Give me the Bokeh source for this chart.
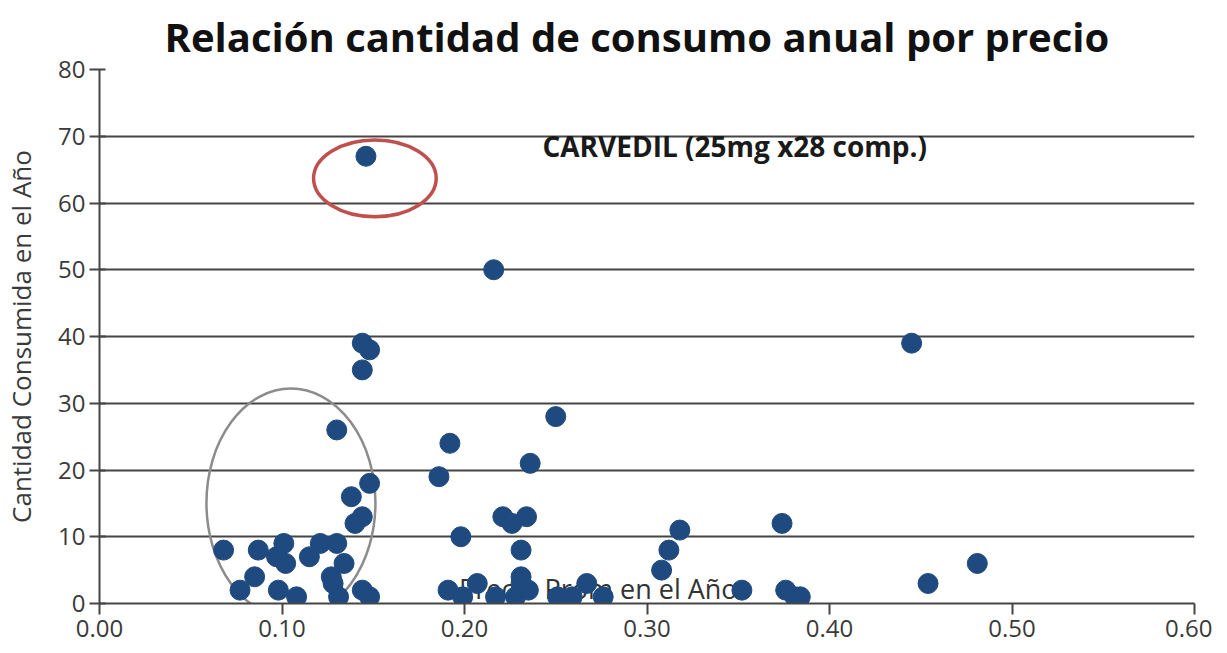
from bokeh.plotting import figure
from bokeh.models import FixedTicker, NumeralTickFormatter, Label, Range1d
from bokeh.embed import file_html
from bokeh.resources import INLINE
from bokeh.core.properties import value

# ---- data ----
precio = [
    0.068, 0.087, 0.101, 0.097, 0.102, 0.085, 0.077, 0.098, 0.108, 0.115,
    0.121, 0.130, 0.134, 0.127, 0.128, 0.131, 0.144, 0.148,
    0.146, 0.216, 0.445, 0.144, 0.148, 0.144, 0.250, 0.130, 0.192, 0.236,
    0.186, 0.148, 0.138, 0.144, 0.140, 0.221, 0.226, 0.234, 0.198, 0.231,
    0.318, 0.374, 0.312, 0.308, 0.481, 0.454, 0.352, 0.376, 0.381, 0.384,
    0.191, 0.199, 0.207, 0.217, 0.228, 0.231, 0.231, 0.235, 0.251, 0.259,
    0.267, 0.276,
]
cantidad = [
    8, 8, 9, 7, 6, 4, 2, 2, 1, 7,
    9, 9, 6, 4, 3, 1, 2, 1,
    67, 50, 39, 39, 38, 35, 28, 26, 24, 21,
    19, 18, 16, 13, 12, 13, 12, 13, 10, 8,
    11, 12, 8, 5, 6, 3, 2, 2, 1, 1,
    2, 1, 3, 1, 1, 4, 3, 2, 1, 1,
    3, 1,
]
x_ticks = [0.0, 0.1, 0.2, 0.3, 0.4, 0.5, 0.6]
y_ticks = [0, 10, 20, 30, 40, 50, 60, 70, 80]

titulo = "Relación cantidad de consumo anual por precio"
eje_y = "Cantidad Consumida en el Año"
eje_x = "Precio Prom en el Año"
nota = "CARVEDIL (25mg x28 comp.)"

FONT = "Open Sans"
GRID = "#454545"
TICKTXT = "#3a3a3a"
DOT = "#1F4A80"

p = figure(
    frame_width=1095, frame_height=534,
    x_range=Range1d(0, 0.6), y_range=Range1d(0, 80),
    output_backend="svg", toolbar_location=None,
    min_border_left=98, min_border_right=18,
    min_border_top=65, min_border_bottom=44,
    title=titulo,
)
p.outline_line_color = None
p.background_fill_color = "white"
p.border_fill_color = "white"

p.title.text_font = FONT
p.title.text_font_size = "40px"
p.title.text_font_style = "bold"
p.title.text_color = "#111111"
p.title.align = "left"
p.title.offset = 65
p.title.standoff = 12

# axes
p.xaxis.ticker = FixedTicker(ticks=x_ticks)
p.yaxis.ticker = FixedTicker(ticks=y_ticks)
p.xaxis.formatter = NumeralTickFormatter(format="0.00")
for ax in (p.xaxis, p.yaxis):
    ax.axis_line_color = GRID
    ax.axis_line_width = 2
    ax.major_tick_line_color = GRID
    ax.major_tick_line_width = 2
    ax.minor_tick_line_color = None
    ax.major_label_text_font = FONT
    ax.major_label_text_font_size = "24px"
    ax.major_label_text_color = TICKTXT
p.xaxis.major_tick_in = 0
p.xaxis.major_tick_out = 11
p.xaxis.major_label_standoff = 5
p.yaxis.major_tick_in = 6
p.yaxis.major_tick_out = 10
p.yaxis.major_label_standoff = 4

p.yaxis.axis_label = eje_y
p.yaxis.axis_label_text_font = FONT
p.yaxis.axis_label_text_font_size = "26px"
p.yaxis.axis_label_text_font_style = "normal"
p.yaxis.axis_label_text_color = TICKTXT
p.yaxis.axis_label_standoff = 16

p.xgrid.grid_line_color = None
p.ygrid.grid_line_color = GRID
p.ygrid.grid_line_width = 2

# x label drawn inside the plot (under the points)
p.text(x=[0.197], y=[2.3], text=[eje_x], text_font=value(FONT),
       text_font_size="27px", text_color="#333333",
       text_baseline="middle", text_align="left")

# annotation ellipses
p.ellipse(x=[0.1049], y=[15.06], width=[0.0926], height=[34.3],
          fill_color=None, line_color="#8c8c8c", line_width=2.5)
p.ellipse(x=[0.1509], y=[63.7], width=[0.0672], height=[11.5],
          fill_color=None, line_color="#C0504D", line_width=3.5)

# points
p.scatter(x=precio, y=cantidad, size=20, marker="circle",
          fill_color=DOT, line_color=DOT)

p.add_layout(Label(x=0.2427, y=68.6, text=nota, text_font=FONT,
                   text_font_size="28px", text_font_style="bold",
                   text_color="#1a1a1a", text_baseline="middle"))

open("out.html", "w").write(file_html(p, INLINE))
